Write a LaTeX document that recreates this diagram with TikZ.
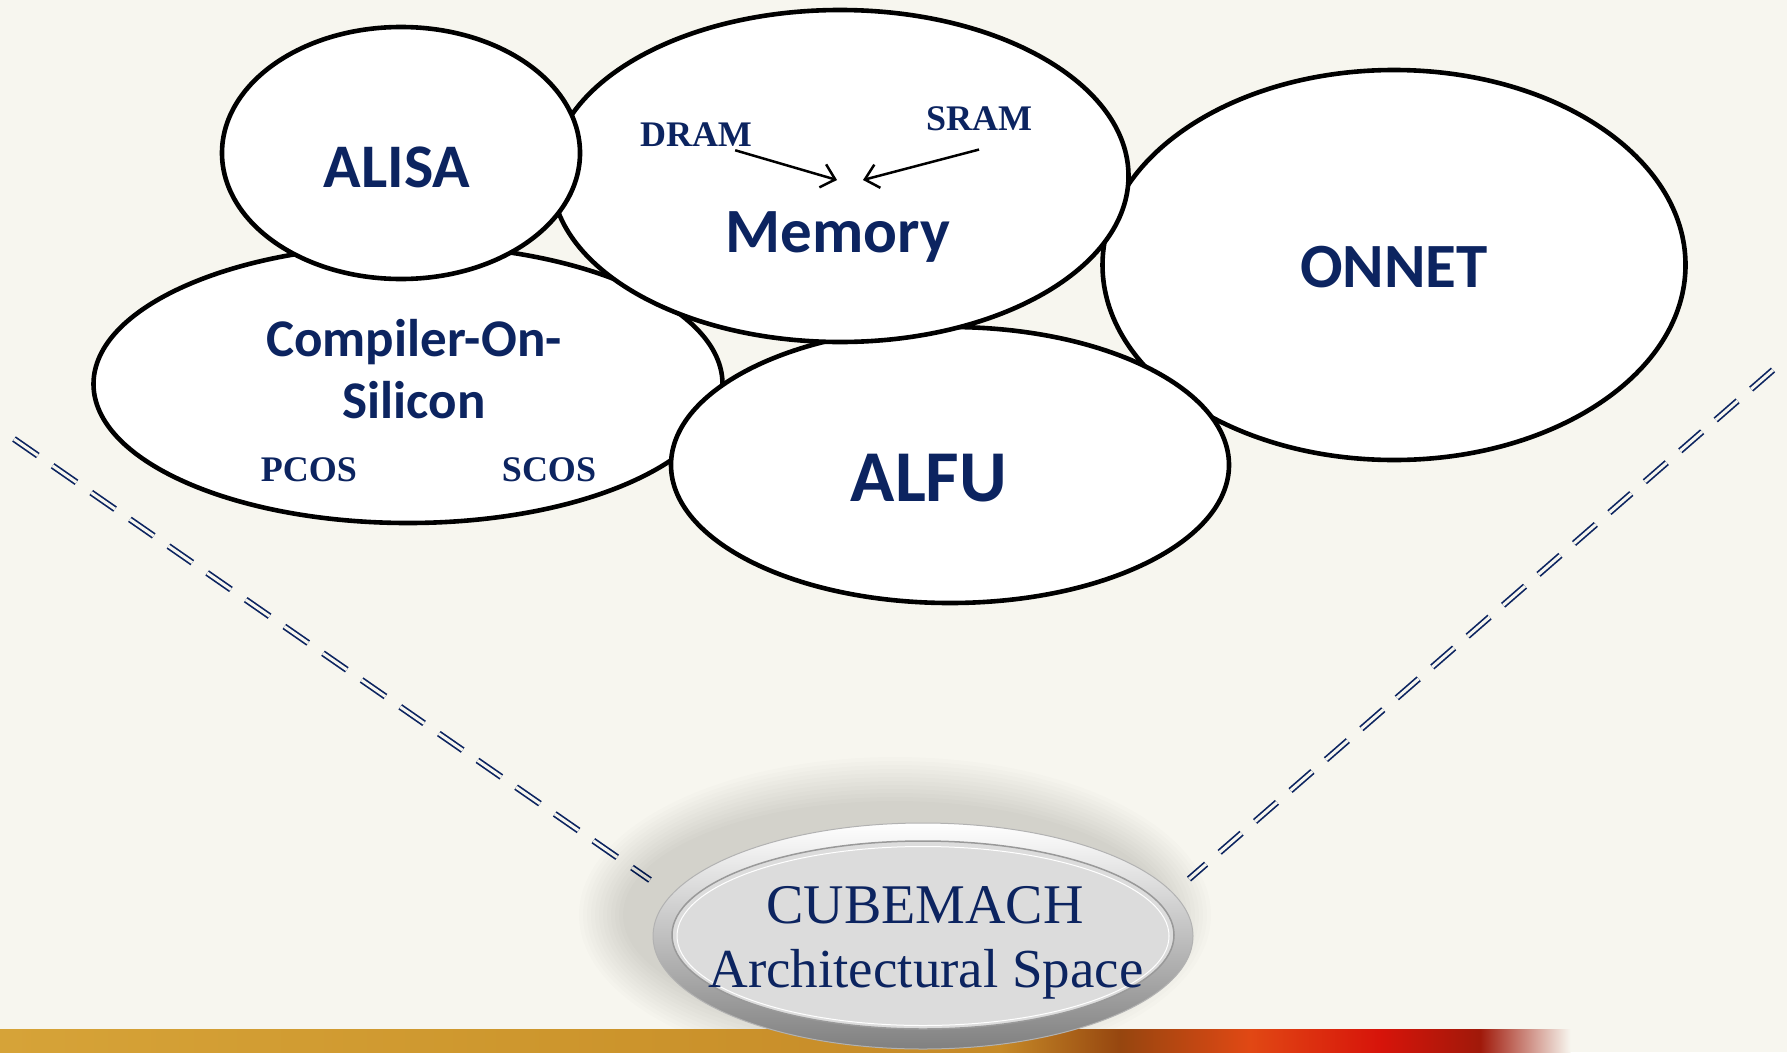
\documentclass[tikz,border=0pt]{standalone}
\usepackage{fontspec}
\newfontfamily\carlito{Carlito}
\newfontfamily\libserif{Liberation Serif}
\usetikzlibrary{shapes.geometric,arrows.meta}
\definecolor{paper}{RGB}{247,246,239}
\definecolor{navy}{RGB}{12,36,96}
\definecolor{rimgrey}{RGB}{128,128,128}
\definecolor{padgrey}{RGB}{220,220,220}
\definecolor{goldA}{RGB}{214,163,56}
\definecolor{goldB}{RGB}{205,150,45}
\definecolor{goldC}{RGB}{198,138,40}
\definecolor{brownA}{RGB}{150,70,15}
\definecolor{redA}{RGB}{225,72,20}
\definecolor{redB}{RGB}{215,20,10}
\definecolor{redC}{RGB}{160,25,10}

\begin{document}
\begin{tikzpicture}[
    x=1pt, y=-1pt,
    blob/.style={ellipse, draw=black, fill=white, line width=4.6pt, inner sep=0pt},
    bigT/.style={text=navy, anchor=base, inner sep=0pt, font=\carlito\bfseries\fontsize{#1}{#1}\selectfont},
    smallT/.style={text=navy, anchor=base, inner sep=0pt, font=\libserif\bfseries\fontsize{36}{36}\selectfont},
    capT/.style={text=navy, anchor=base, inner sep=0pt, font=\libserif\fontsize{#1}{#1}\selectfont},
    arr/.style={-{Straight Barb[length=13pt,width=24pt]}, line width=2.5pt},
    rail/.style={draw=navy, double=paper, double distance=3pt, line width=1.7pt, dash pattern=on 29pt off 18pt},
]
\useasboundingbox (0,0) rectangle (1787,1052);
\fill[paper] (0,0) rectangle (1787,1052);

% dashed rails
\coordinate (railL1) at (14,439);
\coordinate (railL2) at (650,880);
\coordinate (railR1) at (1773,370);
\coordinate (railR2) at (1189,879);
\draw[rail] (railL1) -- (railL2);
\draw[rail] (railR1) -- (railR2);

% bubbles
\node[blob, minimum width=583, minimum height=390] (onnet) at (1394,265) {};
\node[blob, minimum width=629, minimum height=278] (cos) at (408,384) {};
\node[blob, minimum width=558, minimum height=276] (alfu) at (950,465) {};
\node[blob, minimum width=577, minimum height=332] (memory) at (840,176) {};
\node[blob, minimum width=358, minimum height=252] (alisa) at (401,153) {};

\node[bigT=62] (alisaT) at (397,187) {ALISA};
\node[bigT=63] (memoryT) at (838,252) {Memory};
\node[bigT=63] (onnetT) at (1394,287) {ONNET};
\node[bigT=73] (alfuT) at (929,501) {ALFU};
\node[bigT=53] (cosT) at (414,356) {Compiler-On-};
\node[bigT=53] (silT) at (414,418) {Silicon};
\node[smallT] (dram) at (696,146) {DRAM};
\node[smallT] (sram) at (979,130) {SRAM};
\node[smallT] (pcos) at (309,481) {PCOS};
\node[smallT] (scos) at (549,481) {SCOS};

\coordinate (dramTip) at (837,180);
\coordinate (sramTip) at (863,180);
\draw[arr] ([xshift=-17pt,yshift=-4pt]dram.south east) -- (dramTip);
\draw[arr] ([yshift=-19pt]sram.south) -- (sramTip);

% soft shadow
\foreach \s in {0,4,...,44} {
  \fill[black, opacity=0.013] (895,915) ellipse ({272+\s} and {114+\s});
}

% bottom bar
\foreach \xa/\xb/\ca/\cb in {0/560/goldA/goldB, 560/1000/goldB/goldC, 1000/1120/goldC/brownA,
    1120/1250/brownA/redA, 1250/1380/redA/redB, 1380/1480/redB/redC, 1480/1570/redC/paper} {
  \shade[left color=\ca, right color=\cb] (\xa,1029) rectangle (\xb+0.5,1052);
}

% CUBEMACH badge
\node[ellipse, inner sep=0pt, minimum width=540, minimum height=226, top color=white, bottom color=rimgrey, draw=gray!60, line width=1pt] (cube) at (923,936) {};
\node[ellipse, inner sep=0pt, minimum width=502, minimum height=188, fill=padgrey, draw=gray!80, line width=1.5pt] (cubeIn) at (923,935) {};
\node[ellipse, inner sep=0pt, minimum width=492, minimum height=179, draw=white, line width=1pt] (cubeHi) at (923,936) {};
\node[capT=56] (cubeT) at (925,923) {CUBEMACH};
\node[capT=55] (spaceT) at (926,987) {Architectural Space};
\end{tikzpicture}
\end{document}
